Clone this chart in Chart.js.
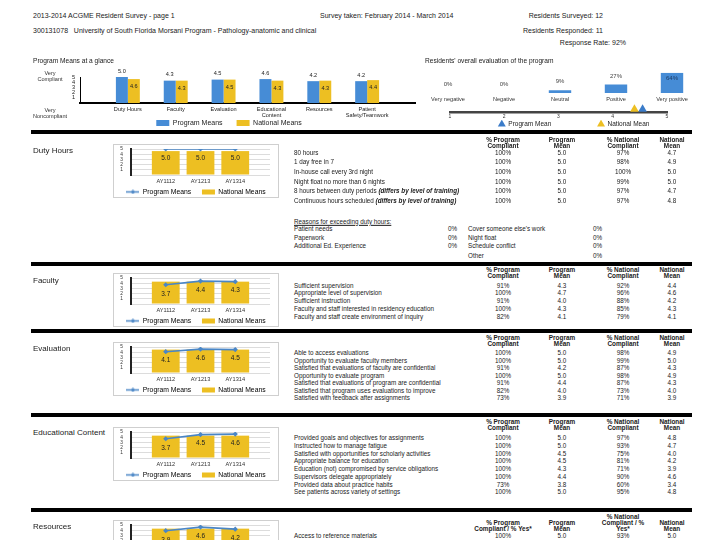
<!DOCTYPE html>
<html>
<head>
<meta charset="utf-8">
<script src="https://cdn.jsdelivr.net/npm/chart.js@4.4.1/dist/chart.umd.min.js"></script>
<style>
  html, body { margin: 0; padding: 0; background: #fff; }
  #page { position: relative; width: 720px; height: 540px; overflow: hidden;
          font-family: 'Liberation Sans', Arial, sans-serif; color: #1a1a1a; }
  .t { position: absolute; white-space: nowrap; line-height: 1; transform: translateY(-50%); }
  .c { transform: translate(-50%, -50%); text-align: center; }
  .rt { transform: translate(-100%, -50%); }
  .hdr { font-size: 7px; }
  .ttl { font-size: 6.6px; }
  .sec { font-size: 8px; }
  .row { font-size: 6.3px; }
  .hd { font-size: 6.4px; font-weight: bold; }
  .ax { font-size: 5.6px; color: #333; }
  .sep { position: absolute; left: 31px; width: 661px; height: 4px; background: #000; }
  .box { position: absolute; left: 113px; width: 164px; height: 52px; border: 1px solid #cfcfcf; }
  canvas { position: absolute; display: block; }
</style>
</head>
<body>
<div id="page">
  <canvas id="glance" width="385" height="68" style="left:35px;top:62px"></canvas>
  <canvas id="overall" width="280" height="40" style="left:420px;top:64px"></canvas>
  <canvas id="scale" width="256" height="34" style="left:442px;top:98px"></canvas>
</div>
<script>
// ---- data ----
const glanceCats = ['Duty Hours', 'Faculty', 'Evaluation', ['Educational', 'Content'], 'Resources', ['Patient', 'Safety/Teamwork']];
const glanceProgram = [5.0, 4.3, 4.5, 4.6, 4.2, 4.2];
const glanceNational = [4.6, 4.3, 4.5, 4.3, 4.3, 4.4];

const overallCats = ['Very negative', 'Negative', 'Neutral', 'Positive', 'Very positive'];
const overallPct = [0, 0, 9, 27, 64];
const overallProgramMean = 4.55;
const overallNationalMean = 4.4;

const years = ['AY1112', 'AY1213', 'AY1314'];
const dutyProgram = [5.0, 5.0, 5.0];
const dutyNational = [4.6, 4.6, 4.6];
const facultyProgram = [3.7, 4.4, 4.3];
const facultyNational = [4.3, 4.3, 4.3];
const evaluationProgram = [4.1, 4.6, 4.5];
const evaluationNational = [4.5, 4.5, 4.5];
const eduProgram = [3.7, 4.5, 4.6];
const eduNational = [4.3, 4.3, 4.3];
const resourcesProgram = [3.9, 4.6, 4.2];
const resourcesNational = [4.3, 4.3, 4.3];

const dutyItems = ['80 hours', '1 day free in 7', 'In-house call every 3rd night', 'Night float no more than 6 nights',
  '8 hours between duty periods <b><i>(differs by level of training)</i></b>',
  'Continuous hours scheduled <b><i>(differs by level of training)</i></b>'];
const dutyPctProgram = ['100%', '100%', '100%', '100%', '100%', '100%'];
const dutyMeanProgram = ['5.0', '5.0', '5.0', '5.0', '5.0', '5.0'];
const dutyPctNational = ['97%', '98%', '100%', '99%', '97%', '97%'];
const dutyMeanNational = ['4.7', '4.9', '5.0', '5.0', '4.7', '4.8'];

const reasonsLeft = ['Patient needs', 'Paperwork', 'Additional Ed. Experience'];
const reasonsLeftPct = ['0%', '0%', '0%'];
const reasonsRight = ['Cover someone else\'s work', 'Night float', 'Schedule conflict', 'Other'];
const reasonsRightPct = ['0%', '0%', '0%', '0%'];

const facultyItems = ['Sufficient supervision', 'Appropriate level of supervision', 'Sufficient instruction',
  'Faculty and staff interested in residency education', 'Faculty and staff create environment of inquiry'];
const facultyPctProgram = ['91%', '100%', '91%', '100%', '82%'];
const facultyMeanProgram = ['4.3', '4.7', '4.0', '4.3', '4.1'];
const facultyPctNational = ['92%', '96%', '88%', '85%', '79%'];
const facultyMeanNational = ['4.4', '4.6', '4.2', '4.3', '4.1'];

const evaluationItems = ['Able to access evaluations', 'Opportunity to evaluate faculty members',
  'Satisfied that evaluations of faculty are confidential', 'Opportunity to evaluate program',
  'Satisfied that evaluations of program are confidential', 'Satisfied that program uses evaluations to improve',
  'Satisfied with feedback after assignments'];
const evaluationPctProgram = ['100%', '100%', '91%', '100%', '91%', '82%', '73%'];
const evaluationMeanProgram = ['5.0', '5.0', '4.2', '5.0', '4.4', '4.0', '3.9'];
const evaluationPctNational = ['98%', '99%', '87%', '98%', '87%', '73%', '71%'];
const evaluationMeanNational = ['4.9', '5.0', '4.3', '4.9', '4.3', '4.0', '3.9'];

const eduItems = ['Provided goals and objectives for assignments', 'Instructed how to manage fatigue',
  'Satisfied with opportunities for scholarly activities', 'Appropriate balance for education',
  'Education (not) compromised by service obligations', 'Supervisors delegate appropriately',
  'Provided data about practice habits', 'See patients across variety of settings'];
const eduPctProgram = ['100%', '100%', '100%', '100%', '100%', '100%', '73%', '100%'];
const eduMeanProgram = ['5.0', '5.0', '4.5', '4.5', '4.3', '4.4', '3.8', '5.0'];
const eduPctNational = ['97%', '93%', '75%', '81%', '71%', '90%', '60%', '95%'];
const eduMeanNational = ['4.8', '4.7', '4.0', '4.2', '3.9', '4.6', '3.4', '4.8'];

const resourcesItems = ['Access to reference materials'];
const resourcesPctProgram = ['100%'];
const resourcesMeanProgram = ['5.0'];
const resourcesPctNational = ['93%'];
const resourcesMeanNational = ['5.0'];

// ---- colours ----
const BLUE = '#468cd6';
const LINE = '#4a86c6';
const YELLOW = '#edbf22';
const FONT = "'Liberation Sans', Arial, sans-serif";
const EM = '\u2003';

const page = document.getElementById('page');

function put(x, y, html, cls) {
  const d = document.createElement('div');
  d.className = 't ' + (cls || '');
  d.style.left = x + 'px';
  d.style.top = y + 'px';
  d.innerHTML = html;
  page.appendChild(d);
  return d;
}

// header lines
put(33, 15, '2013-2014 ACGME Resident Survey - page 1', 'hdr');
put(320, 15, 'Survey taken: February 2014 - March 2014', 'hdr');
put(603, 15, 'Residents Surveyed: 12', 'hdr rt');
put(33, 30, '300131078&nbsp;&nbsp; University of South Florida Morsani Program - Pathology-anatomic and clinical', 'hdr');
put(603, 30, 'Residents Responded: 11', 'hdr rt');
put(626, 42, 'Response Rate: 92%', 'hdr rt');

put(33, 61, 'Program Means at a glance', 'ttl');
put(425, 61, 'Residents\' overall evaluation of the program', 'ttl');
put(50, 74, 'Very', 'ax c');
put(50, 80, 'Compliant', 'ax c');
put(50, 111, 'Very', 'ax c');
put(50, 117, 'Noncompliant', 'ax c');

// section separators
[130, 262, 329, 413, 508].forEach(y => {
  const s = document.createElement('div');
  s.className = 'sep';
  s.style.top = y + 'px';
  page.appendChild(s);
});

// section tables
const colX = [503, 562, 623, 672];
const stdHead = [['% Program', 'Compliant'], ['Program', 'Mean'], ['% National', 'Compliant'], ['National', 'Mean']];

function header(yBottom, lines) {
  lines.forEach((col, c) => {
    col.forEach((s, k) => put(colX[c], yBottom - (col.length - 1 - k) * 6, s, 'hd c'));
  });
}
function table(y0, dy, items, cols) {
  items.forEach((label, i) => {
    const y = y0 + i * dy;
    put(294, y, label, 'row');
    cols.forEach((col, c) => put(colX[c], y, col[i], 'row c'));
  });
}

put(33, 151, 'Duty Hours', 'sec');
header(146, stdHead);
table(152.5, 9.7, dutyItems, [dutyPctProgram, dutyMeanProgram, dutyPctNational, dutyMeanNational]);
put(294, 221.5, '<u>Reasons for exceeding duty hours:</u>', 'row');
const reasonY = [229, 237.5, 246, 255.5];
reasonsLeft.forEach((s, i) => { put(294, reasonY[i], s, 'row'); put(448, reasonY[i], reasonsLeftPct[i], 'row'); });
reasonsRight.forEach((s, i) => { put(468, reasonY[i], s, 'row'); put(593, reasonY[i], reasonsRightPct[i], 'row'); });

put(33, 281, 'Faculty', 'sec');
header(276, stdHead);
table(285.5, 7.75, facultyItems, [facultyPctProgram, facultyMeanProgram, facultyPctNational, facultyMeanNational]);

put(33, 349, 'Evaluation', 'sec');
header(343.5, stdHead);
table(353.3, 7.5, evaluationItems, [evaluationPctProgram, evaluationMeanProgram, evaluationPctNational, evaluationMeanNational]);

put(33, 433, 'Educational Content', 'sec');
header(427.5, stdHead);
table(438.3, 7.72, eduItems, [eduPctProgram, eduMeanProgram, eduPctNational, eduMeanNational]);

put(33, 527, 'Resources', 'sec');
header(529, [['% Program', 'Compliant / % Yes*'], ['Program', 'Mean'], ['% National', 'Compliant / %', 'Yes*'], ['National', 'Mean']]);
table(536, 7.7, resourcesItems, [resourcesPctProgram, resourcesMeanProgram, resourcesPctNational, resourcesMeanNational]);

// ---- charts ----
Chart.defaults.font.family = FONT;
Chart.defaults.color = '#222';
Chart.defaults.animation = false;
Chart.defaults.plugins.tooltip.enabled = false;

const padLabels = a => ['', ...a, ''];
const padData = a => [null, ...a, null];

// value labels on the "at a glance" bars: program above, national inside
const glanceLabels = {
  id: 'glanceLabels',
  afterDatasetsDraw(chart) {
    const ctx = chart.ctx;
    ctx.save();
    ctx.font = '5.6px ' + FONT;
    ctx.textAlign = 'center';
    ctx.fillStyle = '#222';
    chart.data.datasets.forEach((ds, di) => {
      chart.getDatasetMeta(di).data.forEach((bar, i) => {
        if (ds.data[i] == null) return;
        const s = ds.data[i].toFixed(1);
        if (di === 0) { ctx.textBaseline = 'bottom'; ctx.fillText(s, bar.x, bar.y - 3); }
        else { ctx.textBaseline = 'middle'; ctx.fillText(s, bar.x, bar.y + 7.5); }
      });
    });
    ctx.restore();
  }
};

new Chart(document.getElementById('glance'), {
  type: 'bar',
  data: {
    labels: padLabels(glanceCats),
    datasets: [
      { label: 'Program Means', data: padData(glanceProgram), backgroundColor: BLUE, categoryPercentage: 0.5, barPercentage: 1 },
      { label: 'National Means', data: padData(glanceNational), backgroundColor: YELLOW, categoryPercentage: 0.5, barPercentage: 1 }
    ]
  },
  options: {
    responsive: false,
    layout: { padding: { top: 15, right: 5, left: 8 } },
    scales: {
      x: {
        offset: false,
        grid: { display: false, drawTicks: false },
        border: { color: '#000', width: 2 },
        ticks: { font: { size: 5.6 }, padding: 2.6, maxRotation: 0, autoSkip: false },
        afterFit(s) { s.height = 16.5; }
      },
      y: {
        min: 0, max: 5,
        grid: { display: false, drawTicks: false },
        border: { color: '#000', width: 1 },
        ticks: { stepSize: 1, autoSkip: false, font: { size: 5.6 }, padding: 5, callback: v => (v === 0 ? '' : v) },
        afterFit(s) { s.width = 37; }
      }
    },
    plugins: {
      legend: {
        position: 'bottom', maxHeight: 10.5,
        labels: {
          boxWidth: 13, boxHeight: 6, padding: 0, font: { size: 7 }, color: '#222',
          generateLabels(chart) {
            const items = Chart.defaults.plugins.legend.labels.generateLabels(chart);
            items[0].text += EM + EM;
            return items;
          }
        }
      }
    }
  },
  plugins: [glanceLabels]
});

// overall evaluation bars with % labels
const pctLabels = {
  id: 'pctLabels',
  afterDatasetsDraw(chart) {
    const ctx = chart.ctx;
    const area = chart.chartArea;
    ctx.save();
    ctx.font = '6px ' + FONT;
    ctx.textAlign = 'center';
    ctx.textBaseline = 'middle';
    chart.getDatasetMeta(0).data.forEach((bar, i) => {
      let y = bar.y - 8.5;
      ctx.fillStyle = '#444';
      if (y < area.top) { y = bar.y + 6; ctx.fillStyle = '#1d3c66'; }
      ctx.fillText(overallPct[i] + '%', bar.x, y);
    });
    ctx.restore();
  }
};

new Chart(document.getElementById('overall'), {
  type: 'bar',
  data: {
    labels: overallCats,
    datasets: [{ label: 'Residents', data: overallPct, backgroundColor: BLUE, categoryPercentage: 1, barPercentage: 0.4 }]
  },
  options: {
    responsive: false,
    layout: { padding: { top: 8.7 } },
    scales: {
      x: {
        grid: { display: false, drawTicks: false },
        border: { display: false },
        ticks: { font: { size: 5.6 }, padding: 3, color: '#333', maxRotation: 0, autoSkip: false },
        afterFit(s) { s.height = 11; }
      },
      y: { display: false, min: 0, max: 64 }
    },
    plugins: { legend: { display: false } }
  },
  plugins: [pctLabels]
});

// 1..5 scale with the program and national mean markers
new Chart(document.getElementById('scale'), {
  type: 'scatter',
  data: {
    datasets: [
      { label: 'National Mean', data: [{ x: overallNationalMean, y: 0.3 }], pointStyle: 'triangle', pointRadius: 5,
        backgroundColor: YELLOW, borderColor: YELLOW, borderWidth: 0, clip: false },
      { label: 'Program Mean', data: [{ x: overallProgramMean, y: 0.3 }], pointStyle: 'triangle', pointRadius: 5,
        backgroundColor: '#3b7cc9', borderColor: '#3b7cc9', borderWidth: 0, clip: false }
    ]
  },
  options: {
    responsive: false,
    layout: { padding: { top: 2, left: 8 } },
    scales: {
      x: {
        type: 'linear', min: 1, max: 5,
        grid: { display: false, drawTicks: false },
        border: { color: '#444', width: 2.5 },
        ticks: { stepSize: 1, font: { size: 5 }, padding: 1.5, color: '#333' },
        afterFit(s) { s.height = 8; }
      },
      y: {
        min: 0, max: 1,
        grid: { display: false, drawTicks: false }, border: { display: false }, ticks: { display: false },
        afterFit(s) { s.width = 0; }
      },
      yr: {
        position: 'right',
        grid: { display: false, drawTicks: false }, border: { display: false }, ticks: { display: false },
        afterFit(s) { s.width = 31; }
      }
    },
    plugins: {
      legend: {
        position: 'bottom', maxHeight: 12, reverse: true,
        labels: {
          usePointStyle: true, boxHeight: 6.5, padding: 1, font: { size: 6.5 }, color: '#222',
          generateLabels(chart) {
            const items = Chart.defaults.plugins.legend.labels.generateLabels(chart);
            items[1].text += EM.repeat(7);
            return items;
          }
        }
      }
    }
  }
});

// small trend charts per section
function lineSwatch() {
  const c = document.createElement('canvas');
  c.width = 13; c.height = 5;
  const g = c.getContext('2d');
  g.strokeStyle = LINE; g.lineWidth = 1.5;
  g.beginPath(); g.moveTo(0, 2.5); g.lineTo(13, 2.5); g.stroke();
  g.fillStyle = LINE;
  g.beginPath(); g.moveTo(6.5, 0.3); g.lineTo(8.7, 2.5); g.lineTo(6.5, 4.7); g.lineTo(4.3, 2.5); g.closePath(); g.fill();
  return c;
}
const swatch = lineSwatch();

const programLabels = {
  id: 'programLabels',
  afterDatasetsDraw(chart) {
    const ctx = chart.ctx;
    const data = chart.data.datasets[0].data;
    ctx.save();
    ctx.font = '6.5px ' + FONT;
    ctx.fillStyle = '#222';
    ctx.textAlign = 'center';
    ctx.textBaseline = 'middle';
    chart.getDatasetMeta(0).data.forEach((pt, i) => {
      if (data[i] == null) return;
      ctx.fillText(data[i].toFixed(1), pt.x, pt.y + 9);
    });
    ctx.restore();
  }
};

function trendChart(top, program, national) {
  const box = document.createElement('div');
  box.className = 'box';
  box.style.top = top + 'px';
  const cv = document.createElement('canvas');
  cv.width = 164; cv.height = 52;
  cv.style.left = '0px'; cv.style.top = '0px';
  box.appendChild(cv);
  page.appendChild(box);

  return new Chart(cv, {
    type: 'bar',
    data: {
      labels: padLabels(years),
      datasets: [
        { type: 'line', label: 'Program Means', data: padData(program), borderColor: LINE, backgroundColor: LINE,
          borderWidth: 1.6, pointStyle: 'rectRot', pointRadius: 2.6, pointBorderWidth: 0, order: 0 },
        { type: 'bar', label: 'National Means', data: padData(national), backgroundColor: YELLOW,
          categoryPercentage: 1, barPercentage: 0.8, order: 1 }
      ]
    },
    options: {
      responsive: false,
      layout: { padding: { top: 4 } },
      scales: {
        x: {
          offset: false,
          grid: { display: false, drawTicks: false },
          border: { display: false },
          ticks: { font: { size: 5.6 }, padding: 2.6, color: '#333', maxRotation: 0, autoSkip: false },
          afterFit(s) { s.height = 9.5; }
        },
        y: {
          min: 0, max: 5,
          grid: { color: '#dcdcdc', drawTicks: false },
          border: { color: '#222', width: 2 },
          // small tick padding keeps the plot top where it is; the spaces push the digits off the axis
          ticks: { stepSize: 1, autoSkip: false, font: { size: 4.8 }, padding: 1, color: '#333',
                   callback: v => (v === 0 ? '' : v + '\u2003\u2002') },
          afterFit(s) { s.width = 17; }
        },
        yr: {
          position: 'right',
          grid: { display: false, drawTicks: false }, border: { display: false }, ticks: { display: false },
          afterFit(s) { s.width = 8; }
        }
      },
      plugins: {
        legend: {
          position: 'bottom', maxHeight: 12.5,
          labels: {
            usePointStyle: true, pointStyleWidth: 13, boxHeight: 5, padding: 4, font: { size: 6.8 }, color: '#222',
            generateLabels: () => [
              { text: 'Program Means' + EM, pointStyle: swatch, fillStyle: LINE, strokeStyle: LINE, lineWidth: 0, hidden: false, datasetIndex: 0 },
              { text: 'National Means', pointStyle: 'rect', fillStyle: YELLOW, strokeStyle: YELLOW, lineWidth: 0, hidden: false, datasetIndex: 1 }
            ]
          }
        }
      }
    },
    plugins: [programLabels]
  });
}

trendChart(144, dutyProgram, dutyNational);
trendChart(273, facultyProgram, facultyNational);
trendChart(342, evaluationProgram, evaluationNational);
trendChart(427, eduProgram, eduNational);
trendChart(520, resourcesProgram, resourcesNational);
</script>
</body>
</html>
